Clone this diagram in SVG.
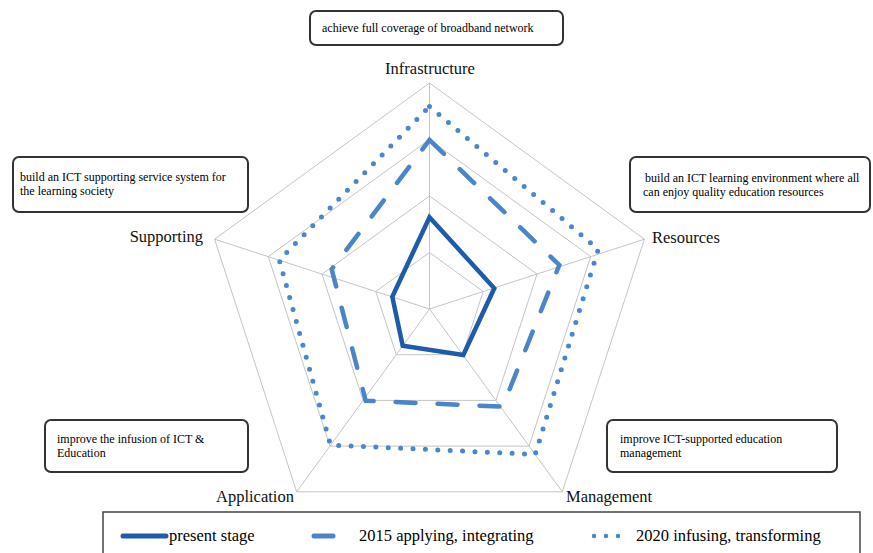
<svg xmlns="http://www.w3.org/2000/svg" width="873" height="553" viewBox="0 0 873 553">
  <style>
    .grid { fill: none; stroke: #c4c4c4; stroke-width: 1; }
    .box { fill: #ffffff; stroke: #333333; stroke-width: 2; }
    .note { font-family: "Liberation Serif", "DejaVu Serif", serif; font-size: 12px; fill: #000000; }
    .axis { font-family: "Liberation Serif", "DejaVu Serif", serif; font-size: 16.5px; fill: #111111; }
    .leg { font-family: "Liberation Serif", "DejaVu Serif", serif; font-size: 16.5px; fill: #000000; }
    .present { fill: none; stroke: #1c5caa; stroke-width: 4.5; stroke-linejoin: miter; }
    .y2015 { fill: none; stroke: #4a84c9; stroke-width: 4.5; stroke-dasharray: 20 22; stroke-linecap: round; }
    .y2020 { fill: none; stroke: #4a86cd; stroke-width: 5; stroke-dasharray: 0 12.4; stroke-linecap: round; }
  </style>

  <rect width="873" height="553" fill="#ffffff"/>

  <!-- radar grid: four rings and five spokes -->
  <g id="grid">
    <polygon class="grid" points="429.5,83 644.4,239.2 562.3,491.8 296.7,491.8 214.6,239.2"/>
    <polygon class="grid" points="429.5,139.5 590.7,256.6 529.1,446.1 329.9,446.1 268.3,256.6"/>
    <polygon class="grid" points="429.5,196 537,274.1 495.9,400.4 363.1,400.4 322,274.1"/>
    <polygon class="grid" points="429.5,252.5 483.2,291.5 462.7,354.7 396.3,354.7 375.8,291.5"/>
    <path class="grid" d="M429.5,309 L429.5,83 M429.5,309 L644.4,239.2 M429.5,309 L562.3,491.8 M429.5,309 L296.7,491.8 M429.5,309 L214.6,239.2"/>
  </g>

  <!-- data series -->
  <g id="series">
    <polygon class="y2020" points="429.5,106.5 598.3,249.3 535.2,454.4 330.5,445 279.3,260"/>
    <polygon class="y2015" points="429.5,140 559.3,265 502.7,406.7 365.7,400.7 331.7,269.3"/>
    <polygon class="present" points="429.5,217.3 494.3,288.3 463.3,355 402.7,345.7 392.3,296.7"/>
  </g>

  <!-- axis labels -->
  <g id="axis-labels">
    <text class="axis" x="430" y="74" text-anchor="middle">Infrastructure</text>
    <text class="axis" x="652" y="243">Resources</text>
    <text class="axis" x="566" y="502">Management</text>
    <text class="axis" x="216" y="502">Application</text>
    <text class="axis" x="203" y="242" text-anchor="end">Supporting</text>
  </g>

  <!-- goal boxes -->
  <g id="goal-infrastructure">
    <rect class="box" x="310" y="11" width="253" height="34" rx="6"/>
    <text class="note" x="322" y="32">achieve full coverage of broadband network</text>
  </g>
  <g id="goal-supporting">
    <rect class="box" x="13" y="157" width="235" height="55" rx="6"/>
    <text class="note" x="20" y="181">build an ICT supporting service system for</text>
    <text class="note" x="20" y="195">the learning society</text>
  </g>
  <g id="goal-resources">
    <rect class="box" x="630" y="157" width="240" height="55" rx="6"/>
    <text class="note" x="645" y="182">build an ICT learning environment where all</text>
    <text class="note" x="643" y="196">can enjoy quality education resources</text>
  </g>
  <g id="goal-application">
    <rect class="box" x="45" y="420" width="203" height="52" rx="6"/>
    <text class="note" x="57" y="443">improve the infusion of ICT &amp;</text>
    <text class="note" x="57" y="457">Education</text>
  </g>
  <g id="goal-management">
    <rect class="box" x="607" y="420" width="230" height="52" rx="6"/>
    <text class="note" x="620" y="443">improve ICT-supported education</text>
    <text class="note" x="620" y="457">management</text>
  </g>

  <!-- legend -->
  <g id="legend">
    <rect x="103" y="512" width="757" height="60" fill="#ffffff" stroke="#444444" stroke-width="1.5"/>
    <line x1="123" y1="536" x2="166" y2="536" stroke="#1c5caa" stroke-width="5" stroke-linecap="round"/>
    <text class="leg" x="169" y="541">present stage</text>
    <line x1="314" y1="536" x2="333" y2="536" stroke="#4a84c9" stroke-width="5" stroke-linecap="round"/>
    <text class="leg" x="359" y="541">2015 applying, integrating</text>
    <line x1="594" y1="536" x2="630" y2="536" stroke="#4a86cd" stroke-width="4.5" stroke-dasharray="0 12" stroke-linecap="round"/>
    <text class="leg" x="636" y="541">2020 infusing, transforming</text>
  </g>
</svg>
